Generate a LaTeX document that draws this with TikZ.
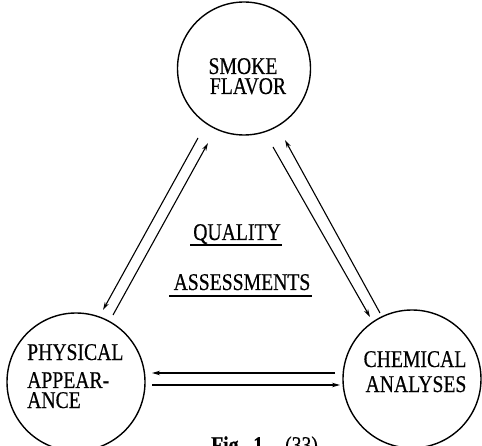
\documentclass[tikz,border=0pt]{standalone}
\usepackage{fontspec}
\setmainfont{Liberation Serif}[FakeStretch=0.82,FakeBold=0.4]
\usetikzlibrary{arrows.meta}
\tikzset{
  circ/.style={circle, draw, line width=1.4pt, inner sep=0pt},
  lbl/.style={inner sep=0pt, font=\fontsize{24}{24}\selectfont},
  conn/.style={line width=1.1pt, -{Stealth[length=8pt,width=4.5pt]}},
  uline/.style={line width=1.1pt}
}
\begin{document}
\begin{tikzpicture}[x=1pt,y=-1pt]
\useasboundingbox (0,0) rectangle (482,446);
\clip (0,0) rectangle (482,446);
% circles
\node[circ, minimum width=133pt] (smoke) at (244,68.5) {};
\node[circ, minimum width=138pt] (phys) at (76,382) {};
\node[circ, minimum width=138pt] (chem) at (412,379) {};
% circle texts
\node[lbl, anchor=base] (t1) at (243,74) {SMOKE};
\node[lbl, anchor=base] (t2) at (248,94) {FLAVOR};
\node[lbl, anchor=base west] (t3) at (27,360) {PHYSICAL};
\node[lbl, anchor=base west] (t4) at (27,388) {APPEAR-};
\node[lbl, anchor=base west] (t5) at (27,408) {ANCE};
\node[lbl, anchor=base] (t6) at (415,367) {CHEMICAL};
\node[lbl, anchor=base] (t7) at (416,392) {ANALYSES};
% centre texts
\node[lbl, anchor=base] (q) at (237,240) {QUALITY};
\node[lbl, anchor=base] (a) at (242,290) {ASSESSMENTS};
\draw[uline] ([xshift=-3pt,yshift=-5pt]q.base west) -- ([xshift=1pt,yshift=-5pt]q.base east);
\draw[uline] ([xshift=-4pt,yshift=-6pt]a.base west) -- ([xshift=1pt,yshift=-6pt]a.base east);
% caption
\node[lbl, anchor=base west] (cap) at (211,453) {\textbf{Fig.\ \ 1}\hspace{22pt}(33)};
% connector end points
\coordinate (l1s) at (198,138); \coordinate (l1e) at (103,310);
\coordinate (l2s) at (113,315); \coordinate (l2e) at (208,143);
\coordinate (r1s) at (273,147); \coordinate (r1e) at (370,317);
\coordinate (r2s) at (380,313); \coordinate (r2e) at (285,140);
\coordinate (h1s) at (335,373); \coordinate (h1e) at (152,373);
\coordinate (h2s) at (152,385); \coordinate (h2e) at (340,385);
\draw[conn] (l1s) -- (l1e);
\draw[conn] (l2s) -- (l2e);
\draw[conn] (r1s) -- (r1e);
\draw[conn] (r2s) -- (r2e);
\draw[conn] (h1s) -- (h1e);
\draw[conn] (h2s) -- (h2e);
\end{tikzpicture}
\end{document}
